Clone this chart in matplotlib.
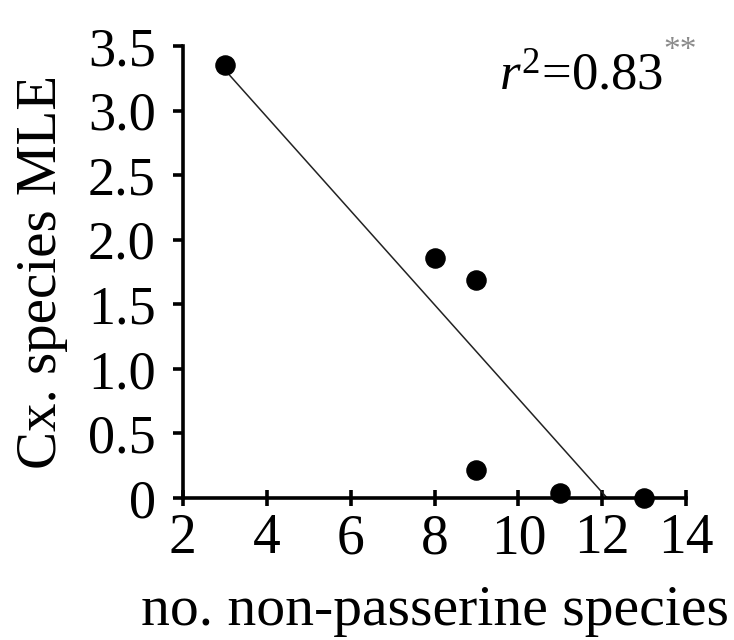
import numpy as np
import matplotlib
matplotlib.use('Agg')
import matplotlib.pyplot as plt

# values
n_nonpasserine = [3, 8, 9, 9, 11, 13]
cx_mle = [3.35, 1.86, 1.69, 0.22, 0.04, 0.0]
x_ticks = [2, 4, 6, 8, 10, 12, 14]
y_ticks = [0, 0.5, 1.0, 1.5, 2.0, 2.5, 3.0, 3.5]
y_ticklabels = ['0', '0.5', '1.0', '1.5', '2.0', '2.5', '3.0', '3.5']

plt.rcParams['font.family'] = ['Liberation Serif', 'DejaVu Serif']
plt.rcParams['mathtext.fontset'] = 'custom'
plt.rcParams['mathtext.rm'] = 'Liberation Serif'
plt.rcParams['mathtext.it'] = 'Liberation Serif:italic'

fig = plt.figure(figsize=(7.34, 6.4), dpi=100)
ax = fig.add_axes([0.249, 0.222, 0.686, 0.706])

ax.scatter(n_nonpasserine, cx_mle, s=190, color='black', zorder=3, clip_on=False)

# least squares line, from the first point down to where it meets zero
slope, icpt = np.polyfit(n_nonpasserine, cx_mle, 1)
x0 = min(n_nonpasserine)
x1 = -icpt / slope
ax.plot([x0, x1], [slope * x0 + icpt, 0], color='#222222', lw=1.1, zorder=2)

ax.set_xlim(2, 14)
ax.set_ylim(0, 3.5)
ax.set_xticks(x_ticks)
ax.set_yticks(y_ticks)
ax.set_yticklabels(y_ticklabels)

for s in ['top', 'right']:
    ax.spines[s].set_visible(False)
for s in ['left', 'bottom']:
    ax.spines[s].set_linewidth(2.6)

ax.tick_params(axis='y', direction='out', length=7.5, width=2.6, labelsize=39, pad=12)
ax.tick_params(axis='x', direction='inout', length=12, width=2.6, labelsize=40, pad=5)

ax.set_xlabel('no. non-passerine species', fontsize=41.5, labelpad=14)
ax.set_ylabel('Cx. species MLE', fontsize=41, labelpad=14)

t = ax.text(0.954, 0.903, r'$r^2$=0.83', transform=ax.transAxes, fontsize=38,
            ha='right', va='baseline')
ax.annotate('**', xy=(1.0, 0.72), xycoords=t, fontsize=24, color='#8a8a8a',
            ha='left', va='bottom')

fig.savefig('out.png', dpi=100)
